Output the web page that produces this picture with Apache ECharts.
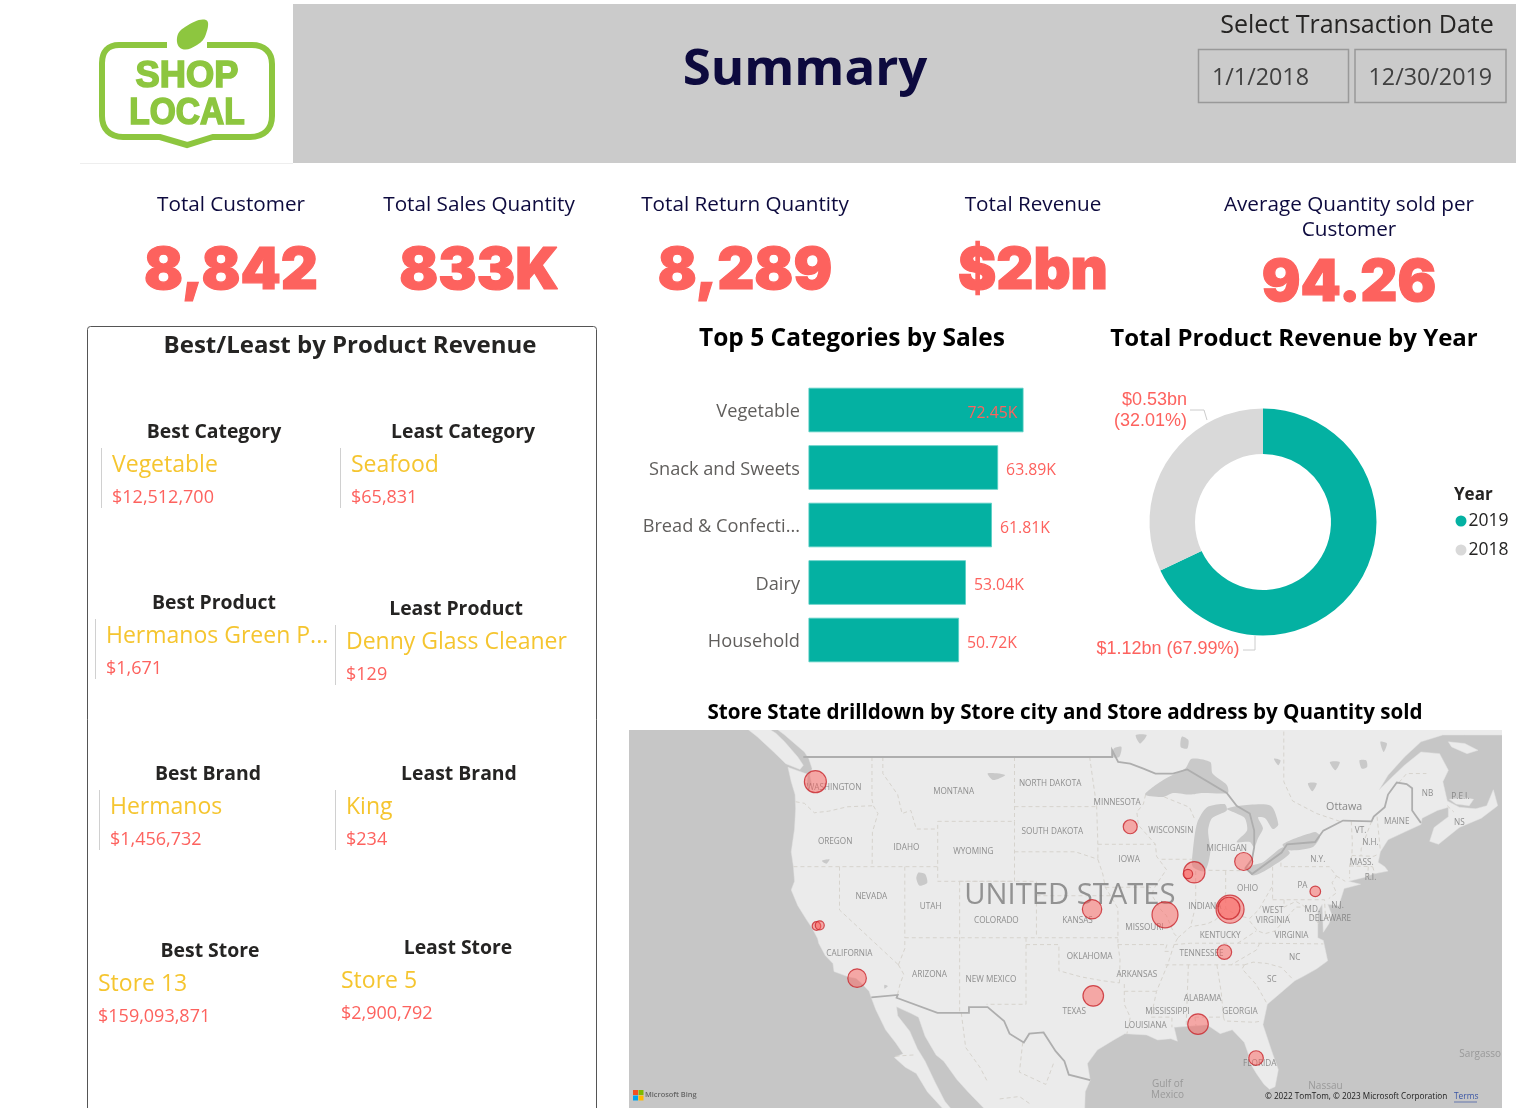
<!DOCTYPE html>
<html><head><meta charset="utf-8">
<style>html,body{margin:0;padding:0;background:#fff}#c{width:1516px;height:1108px}</style>
<script src="https://cdn.jsdelivr.net/npm/echarts@6/dist/echarts.min.js"></script>
</head><body><div id="c"></div>
<script>
// ---------- data ----------
const kpiTitles = ['Total Customer','Total Sales Quantity','Total Return Quantity','Total Revenue','Average Quantity sold per\nCustomer'];
const kpiValues = ['8,842','833K','8,289','$2bn','94.26'];
const dateRange = ['1/1/2018','12/30/2019'];
const panelTitles = ['Best Category','Least Category','Best Product','Least Product','Best Brand','Least Brand','Best Store','Least Store'];
const panelNames = ['Vegetable','Seafood','Hermanos Green P...','Denny Glass Cleaner','Hermanos','King','Store 13','Store 5'];
const panelAmounts = ['$12,512,700','$65,831','$1,671','$129','$1,456,732','$234','$159,093,871','$2,900,792'];
const categories = ['Vegetable','Snack and Sweets','Bread & Confecti...','Dairy','Household'];
const categorySales = [72.45,63.89,61.81,53.04,50.72];
const years = ['2019','2018'];
const yearRevenueBn = [1.12,0.5275];
const yearRevenueLabel = ['$1.12bn (67.99%)','$0.53bn\n(32.01%)'];
// store bubbles: lon, lat, quantity sold (estimated)
const storeLon = [-122.2,-122.1,-121.8,-118.4,-93.5,-87.66,-88.24,-83.16,-76.63,-84.4,-84.5,-96.98,-90.33,-84.92,-96.87,-87.32,-82.03];
const storeLat = [47.5,37.85,37.9,34.0,44.65,41.62,41.5,42.35,40.3,39.05,39.12,39.05,38.65,35.95,32.65,30.45,27.75];
const storeQty = [70000,10700,11700,50000,28400,66000,12800,47000,16300,113700,70000,54500,98000,30900,61500,61500,30900];
// base map geography (lon, lat)
const landOutlines = [
 [[-128.5,50.7],[-127.5,50.2],[-126,49.3],[-124.9,48.6],[-123.6,48.25],[-123.3,48.5],[-123.8,49],[-125,49.9],[-125.8,50.4],[-127,50.9]],
 [[-127.5,51.5],[-125,50.3],[-123.2,49.3],[-122.8,48.9],[-122.5,48.3],[-122.7,47.9],[-122.5,47.3],[-123,47.2],[-122.9,47.95],[-123.8,48.17],[-124.7,48.38],[-124.4,47.5],[-124.05,46.7],[-124,45.8],[-124.1,44.5],[-124.4,43],[-124.2,42],[-124.1,41],[-124.4,40.4],[-123.8,39.3],[-123,38.3],[-122.5,37.7],[-122,36.95],[-121.9,36.6],[-121.3,35.7],[-120.6,35.1],[-120.5,34.5],[-119.2,34.1],[-118.5,34],[-118.1,33.7],[-117.3,33],[-117.1,32.5],[-116.7,31.6],[-115.8,30],[-114.9,29],[-114.2,28.1],[-115,27.8],[-114,27],[-113,26.5],[-112,25],[-110,23],[-109.5,23.2],[-110.4,24.2],[-111.3,25.8],[-112.2,27.5],[-112.9,28.5],[-113.6,29.9],[-114.7,31.1],[-114.8,31.8],[-113.5,31.3],[-112.8,31],[-112.2,29.5],[-111.2,28],[-110.5,27.5],[-109.3,26],[-108.3,25],[-106.5,23.3],[-105.6,21],[-105,19],[-97,19],[-97.7,22.3],[-97.6,25],[-97.15,25.95],[-97.4,27.3],[-96.5,28.4],[-95,29.2],[-94,29.7],[-92,29.6],[-91,29.2],[-89.8,29.3],[-89.2,29.1],[-89.5,30.2],[-88,30.3],[-86.5,30.4],[-85.3,29.7],[-84.2,30],[-83.1,29],[-82.7,28],[-82.8,27.7],[-82,26.5],[-81.3,25.6],[-80.8,25.2],[-80.3,25.4],[-80,26.8],[-80.6,28.3],[-81.4,30.4],[-81,32],[-79.9,32.8],[-78.5,33.8],[-77.8,34.1],[-76.5,34.7],[-75.5,35.3],[-75.9,36.8],[-76.4,37],[-76.4,38.9],[-76,39.4],[-75.9,37.4],[-75.4,38],[-75.1,38.6],[-75.5,39.4],[-74.5,39.3],[-74,40.5],[-72.5,40.8],[-73.6,41],[-72,41.3],[-71.4,41.5],[-70.7,41.6],[-70,41.7],[-70.3,42],[-70.9,42.3],[-70.7,43],[-70,43.8],[-68.5,44.3],[-67,44.8],[-66.9,45.2],[-65.5,45.7],[-64.5,45.9],[-64.5,45.3],[-65.8,44.6],[-66.2,43.7],[-65.4,43.5],[-63.5,44.6],[-61.5,45.2],[-60,46],[-60.4,47],[-61,46],[-62,45.8],[-63.5,45.9],[-64.6,46.3],[-65,47.5],[-64.5,48.2],[-65.3,49.2],[-67,49.3],[-68.5,48.5],[-69.6,47.8],[-70.8,47],[-70,47.9],[-68.5,49],[-67,49.9],[-65,50.3],[-63,50.3],[-59.5,50.3],[-58,52],[-130,53]],
 [[-64.4,46.4],[-63,46.5],[-62.2,46.4],[-62.6,46],[-63.8,46.1]],
 [[-64.5,49.9],[-63,49.8],[-61.8,49.4],[-62.8,49.2],[-64.2,49.6]]
];
const lakeOutlines = [
 [[-92.15,46.7],[-90.5,47.6],[-88.5,48.3],[-87.9,48.9],[-86.2,48.7],[-86,48],[-84.7,47.3],[-84.6,46.8],[-86.9,46.8],[-88.05,46.7],[-89.6,46.8],[-90.5,46.55]],
 [[-87.8,43],[-87.4,44.9],[-86.5,45.9],[-84.9,46.1],[-84.7,45.7],[-86.05,45.2],[-86.4,44.4],[-86.2,43],[-86.7,41.7],[-87.8,42]],
 [[-84.7,45.8],[-83.5,46],[-80.7,46],[-80,44.8],[-80.5,44.5],[-81.2,45.2],[-81.85,45.25],[-81.4,44.55],[-81.85,43.9],[-82.2,43.3],[-82.6,43.65],[-83.8,43.65],[-82.85,44.4],[-83.05,45.2],[-83.8,45.5]],
 [[-82.85,41.95],[-81.4,42.3],[-79.6,43.3],[-78.95,42.9],[-80.7,41.95],[-82.3,41.4]],
 [[-79.6,43.5],[-76.65,44.3],[-76.2,44],[-76.9,43.3],[-79.1,43.1]],
 [[-112.8,41.6],[-112.2,41.5],[-112,40.9],[-112.7,40.7],[-113,41.2]],
 [[-88.8,50.2],[-88.2,50],[-88.3,49.5],[-88.9,49.6]],
 [[-93,50.3],[-92,50.3],[-92.6,49.8]],
 [[-95,49.5],[-94.3,49.6],[-94.5,49],[-95.1,49]],
 [[-72.6,48.8],[-72,48.8],[-71.9,48.4],[-72.4,48.3]],
 [[-75.3,48.7],[-74.4,48.7],[-74.8,48.2]],
 [[-77.3,47.4],[-76.5,47.4],[-76.9,46.9]],
 [[-80.4,48.9],[-79.8,48.8],[-80,48.5]],
 [[-70.7,49.9],[-70.1,49.8],[-70.4,49.3]],
 [[-106.5,48],[-105.5,48],[-104.9,47.9],[-106,47.6]],
 [[-121.2,42.2],[-120.9,42.5],[-121.6,42.4]],
 [[-115.9,33.5],[-115.6,33.4],[-115.9,33.2]]
];
const countryBorders = [
 [[-123.3,49],[-95.15,49],[-95.15,49.4],[-94.6,48.7],[-93.5,48.6],[-92.3,48.3],[-91.2,48],[-89.6,48],[-88.3,48.25],[-84.7,46.8],[-83.8,46],[-82.6,45.5],[-82.2,44.4],[-82.2,43.3],[-82.4,42.5],[-83,41.9],[-82.4,41.5],[-79.7,42.95],[-79.2,43.5],[-76.65,43.65],[-75.9,44.4],[-74.1,45.05],[-71.5,45],[-71.3,45.3],[-70.3,45.9],[-70,46.7],[-69.2,47.45],[-68.3,47.35],[-67.8,47.1],[-67.8,45.7],[-67.4,45.3],[-67,44.9]],
 [[-117.1,32.53],[-114.7,32.72],[-114.8,32.5],[-111.07,31.33],[-108.2,31.33],[-108.2,31.78],[-106.5,31.78],[-105,30.7],[-104.5,29.7],[-103.2,29],[-102.7,29.7],[-101.4,29.8],[-100.3,28.3],[-99.5,27.5],[-99.1,26.4],[-97.15,25.95]]
];
const stateBorders = [
 [[-124,46.25],[-123.2,46.15],[-122.3,45.55],[-121,45.65],[-119.3,45.93],[-116.92,46]],
 [[-117.04,49],[-117.04,46.4],[-116.92,46],[-116.5,45.5],[-117,44.3],[-117.03,42]],
 [[-124.2,42],[-111.05,42]],
 [[-116.05,49],[-116.05,48],[-114.7,46.7],[-114.3,45.5],[-113.5,45.7],[-113,44.5],[-111.05,44.5]],
 [[-111.05,45],[-104.05,45],[-104.05,41],[-111.05,41],[-111.05,45]],
 [[-104.05,49],[-104.05,45]],
 [[-120,42],[-120,39],[-114.63,35]],
 [[-114.63,35],[-114.05,36.2],[-114.05,37]],
 [[-114.05,42],[-114.05,37]],
 [[-114.05,37],[-94.62,37]],
 [[-109.05,41],[-109.05,31.33]],
 [[-109.05,41],[-102.05,41],[-102.05,37]],
 [[-103,37],[-103,32],[-106.6,32]],
 [[-114.63,35],[-114.15,34.3],[-114.5,33.5],[-114.72,32.72]],
 [[-103,36.5],[-100,36.5],[-100,34.56],[-98,34.1],[-96,33.8],[-94.48,33.64]],
 [[-94.04,33.55],[-94.04,32],[-93.5,31],[-93.8,29.7]],
 [[-104.05,45.94],[-96.56,45.94]],
 [[-104.05,43],[-98.5,43],[-96.45,42.5]],
 [[-102.05,40],[-95.3,40]],
 [[-97.2,49],[-96.56,45.94],[-96.45,43.5],[-96.45,42.5]],
 [[-96.45,43.5],[-91.2,43.5]],
 [[-95.77,40.58],[-91.7,40.6],[-91.4,40.4]],
 [[-96.45,42.5],[-96,41.5],[-95.77,40.58],[-95.3,40],[-94.62,39.1],[-94.62,36.5]],
 [[-94.62,36.5],[-90.15,36.5],[-90.35,36],[-89.7,36]],
 [[-94.62,36.5],[-94.43,35.4],[-94.48,33.64]],
 [[-94.04,33],[-91.15,33]],
 [[-92.1,46.7],[-92.3,46.1],[-92.9,45.6],[-92.75,44.75],[-91.2,43.5],[-91.1,42.7],[-90.2,41.8],[-91.1,40.8],[-91.4,40.4],[-91.5,40],[-90.7,39],[-90.2,38.6],[-89.5,37.3],[-89.15,37],[-89.5,36.5],[-90.1,35],[-91.1,33],[-91.6,31],[-89.7,31],[-89.7,30.2]],
 [[-90.64,42.5],[-87.8,42.5]],
 [[-90.4,46.55],[-88.1,45.9],[-87.6,45.1]],
 [[-87.53,41.7],[-87.53,39.3],[-88,37.8]],
 [[-89.15,37],[-88,37.8],[-86.5,38],[-85.7,38.3],[-84.8,39.1],[-83.7,38.6],[-82.6,38.4],[-81.8,39],[-80.6,40.6]],
 [[-84.8,41.7],[-84.8,39.1]],
 [[-87,41.76],[-83.45,41.73]],
 [[-80.52,42],[-80.52,39.72]],
 [[-79.76,42.27],[-79.76,42],[-75.35,42],[-74.7,41.36],[-75.1,40.9],[-74.7,40.2],[-75.4,39.8]],
 [[-74.7,41.36],[-73.9,41]],
 [[-80.52,39.72],[-75.79,39.72],[-75.7,38.46],[-75.05,38.46]],
 [[-79.48,39.72],[-79.48,39.2],[-78.4,39.6],[-77.7,39.3],[-77.1,38.8],[-76.3,38]],
 [[-82.6,38.2],[-81.9,37.5],[-81.2,37.3],[-80.3,37.5],[-79.3,38.4],[-78.4,39.2],[-77.8,39.2]],
 [[-89.5,36.5],[-88,36.6],[-83.7,36.6],[-81.7,36.6],[-75.9,36.55]],
 [[-83.7,36.6],[-82,37.5]],
 [[-81.7,36.6],[-82,36.1],[-84.3,35]],
 [[-90.3,35],[-83.1,35]],
 [[-83.1,35],[-82.3,35.2],[-81,35.1],[-79.7,34.8],[-78.6,33.85]],
 [[-83.1,35],[-83.3,34.7],[-82,33.5],[-81,32]],
 [[-85.6,35],[-85.2,32.9],[-85,31]],
 [[-88.2,35],[-88.4,30.3]],
 [[-87.6,31],[-85,31],[-84.9,30.7],[-82.2,30.6],[-81.5,30.7]],
 [[-87.6,31],[-87.5,30.3]],
 [[-73.35,45],[-73.25,43.6],[-73.3,42.75],[-73.5,42.05],[-73.5,41.2]],
 [[-71.5,45],[-72.45,43.2],[-72.46,42.73]],
 [[-73.3,42.75],[-71.3,42.7],[-70.8,42.87]],
 [[-73.5,42.05],[-71.4,42]],
 [[-71.8,42],[-71.85,41.3]],
 [[-71,45.3],[-70.7,43.1]],
 [[-71.4,42],[-71.2,41.5]],
 [[-79.5,50.5],[-79.5,47.5],[-78.7,46.3],[-76.5,45.5],[-74.4,45]],
 [[-69,47.45],[-68.3,48],[-66.5,48]],
 [[-64.6,46],[-64,45.6]],
 [[-108.9,31.33],[-108.5,28.6],[-107.2,27],[-106.5,25.8]],
 [[-103.3,29],[-103.6,26.6],[-101.2,25.6],[-100.5,27.3]],
 [[-105.4,24.4],[-103.6,24.6],[-102.5,23.9]],
 [[-114.9,27.9],[-113.2,28]]
];
const placeNames = ['WASHINGTON','MONTANA','NORTH DAKOTA','MINNESOTA','SOUTH DAKOTA','WISCONSIN','OREGON','IDAHO','WYOMING','MICHIGAN','IOWA','N.Y.','MASS.','VT.','N.H.','MAINE','NB','P.E.I.','NS','NEVADA','UTAH','OHIO','PA','INDIANA','COLORADO','KANSAS','MISSOURI','MD.','N.J.','WEST\nVIRGINIA','DELAWARE','KENTUCKY','VIRGINIA','CALIFORNIA','TENNESSEE','OKLAHOMA','NC','ARIZONA','NEW MEXICO','ARKANSAS','SC','TEXAS','ALABAMA','MISSISSIPPI','GEORGIA','LOUISIANA','FLORIDA','R.I.'];
const placeLon = [-120.5,-109.6,-100.8,-94.7,-100.6,-89.8,-120.4,-113.9,-107.8,-84.7,-93.6,-76.4,-72.4,-72.5,-71.6,-69.2,-66.4,-63.4,-63.5,-117.1,-111.7,-82.8,-77.8,-86.7,-105.7,-98.3,-92.2,-76.9,-74.6,-80.5,-75.3,-85.3,-78.8,-119.1,-87,-97.2,-78.5,-111.8,-106.2,-92.9,-80.6,-98.6,-86.9,-90.1,-83.5,-92.1,-81.7,-71.6];
const placeLat = [47.1,46.9,47.4,46.2,44.3,44.4,43.7,43.3,43,43.2,42.5,42.5,42.3,44.4,43.6,45,46.75,46.6,44.9,39.9,39.2,40.5,40.7,39.2,38.2,38.2,37.7,39,39.3,38.6,38.4,37.15,37.15,35.8,35.8,35.6,35.5,34.3,33.9,34.3,33.9,31.4,32.4,31.4,31.4,30.3,27.3,41.25];
const bigPlaces = ['UNITED STATES','Ottawa','Gulf of\nMexico','Nassau','Sargasso'];
const bigLon = [-99,-74,-90.1,-75.7,-61.6];
const bigLat = [40.03,45.9,25.2,25.45,28.1];

// ---------- style ----------
const UI = '"Open Sans","Noto Sans",sans-serif';
const CORAL = '#fd625e', TEAL = '#04b1a2', YELLOW = '#f5c52f', GREEN = '#8dc63f', INK = '#252423', NAVY = '#0d0a3e';
const merc = lat => Math.log(Math.tan(Math.PI/4 + lat*Math.PI/360));
const txt = (text,x,y,size,fill,opts={}) => ({type:'text',silent:true,z:opts.z||5,style:{text,x,y:y+size*.07,fill,
  font:`${opts.weight||'normal'} ${size}px ${opts.family||UI}`,align:opts.align||'left',verticalAlign:'middle',lineHeight:opts.lineHeight||size*1.25,
  stroke:opts.stroke||null,lineWidth:opts.stroke?opts.strokeWidth:0}});

const g = [];
// header band + logo
g.push({type:'rect',silent:true,shape:{x:293,y:4,width:1223,height:159},style:{fill:'#cbcbcb'}});
g.push({type:'line',silent:true,shape:{x1:80,y1:163.5,x2:293,y2:163.5},style:{stroke:'#eeeeee',lineWidth:1}});
const logoStroke = {fill:'none',stroke:GREEN,lineWidth:6};
g.push({type:'polyline',silent:true,shape:{points:[[167,45],[119,45]]},style:logoStroke});
g.push({type:'bezierCurve',silent:true,shape:{x1:119,y1:45,cpx1:108,cpy1:45,cpx2:102,cpy2:52,x2:102,y2:63},style:logoStroke});
g.push({type:'polyline',silent:true,shape:{points:[[102,63],[102,116]]},style:logoStroke});
g.push({type:'bezierCurve',silent:true,shape:{x1:102,y1:116,cpx1:102,cpy1:129,cpx2:110,cpy2:137,x2:123,y2:137},style:logoStroke});
g.push({type:'polyline',silent:true,shape:{points:[[123,137],[160,137],[187,145],[213,137],[250,137]]},style:logoStroke});
g.push({type:'bezierCurve',silent:true,shape:{x1:250,y1:137,cpx1:264,cpy1:137,cpx2:272,cpy2:129,x2:272,y2:116},style:logoStroke});
g.push({type:'polyline',silent:true,shape:{points:[[272,116],[272,64]]},style:logoStroke});
g.push({type:'bezierCurve',silent:true,shape:{x1:272,y1:64,cpx1:272,cpy1:52,cpx2:264,cpy2:45,x2:252,y2:45},style:logoStroke});
g.push({type:'polyline',silent:true,shape:{points:[[252,45],[207,45]]},style:logoStroke});
g.push({type:'polygon',silent:true,shape:{points:[[182,49],[177,38],[185,27],[206,20],[206,34],[197,45]],smooth:.45},style:{fill:GREEN}});
g.push({type:'text',silent:true,x:187,y:77,scaleX:.98,style:{text:'SHOP',x:0,y:0,align:'center',verticalAlign:'middle',font:'bold 37px "Liberation Sans"',fill:GREEN,stroke:GREEN,lineWidth:1.6}});
g.push({type:'text',silent:true,x:187,y:114,scaleX:.93,style:{text:'LOCAL',x:0,y:0,align:'center',verticalAlign:'middle',font:'bold 36px "Liberation Sans"',fill:GREEN,stroke:GREEN,lineWidth:1.6}});
g.push(txt('Summary',805,67,51,NAVY,{align:'center',weight:'bold'}));
g.push(txt('Select Transaction Date',1357,24,25,INK,{align:'center'}));
[[1198,150],[1354.5,151]].forEach((b,i)=>{
  g.push({type:'rect',silent:true,shape:{x:b[0]+.5,y:49.5,width:b[1],height:53},style:{fill:'none',stroke:'#999',lineWidth:1.5}});
  g.push(txt(dateRange[i],b[0]+14,77,23.3,'#404040'));
});
// KPIs
const kpiTx = [231,479,745,1033,1349], kpiTy = [204,204,204,204,216], kpiVy = [268,268,268,268,280];
kpiTitles.forEach((t,i)=>{
  g.push(txt(t,kpiTx[i],kpiTy[i],20.7,NAVY,{align:'center',lineHeight:25}));
  g.push(txt(kpiValues[i],kpiTx[i],kpiVy[i],57.5,CORAL,{align:'center',weight:'900',family:'Inter,sans-serif',stroke:CORAL,strokeWidth:1.2}));
});
// left panel
g.push({type:'rect',silent:true,shape:{x:87.5,y:326.5,width:509,height:800,r:3},style:{fill:'none',stroke:'#555',lineWidth:1}});
g.push(txt('Best/Least by Product Revenue',350,344,24,INK,{align:'center',weight:'bold'}));
const pTx=[214,463,214,456,208,459,210,458], pTy=[431,431,602,608,773,773,950,947];
const pVx=[112,351,106,346,110,346,98,341], pVy=[464,464,635,641,806,806,983,980];
panelTitles.forEach((t,i)=>{
  g.push(txt(t,pTx[i],pTy[i],19.4,INK,{align:'center',weight:'bold'}));
  g.push(txt(panelNames[i],pVx[i],pVy[i],23,YELLOW));
  g.push(txt(panelAmounts[i],pVx[i],pVy[i]+33,18,CORAL));
  if(i<6) g.push({type:'line',silent:true,shape:{x1:pVx[i]-10.5,y1:pVy[i]-16,x2:pVx[i]-10.5,y2:pVy[i]+44},style:{stroke:'#d0d0d0',lineWidth:1}});
});
// chart titles
g.push(txt('Top 5 Categories by Sales',852,337,24.5,'#000',{align:'center',weight:'bold'}));
g.push(txt('Total Product Revenue by Year',1294,337,24,'#000',{align:'center',weight:'bold'}));
g.push(txt('Store State drilldown by Store city and Store address by Quantity sold',1065,712,20.6,'#000',{align:'center',weight:'bold'}));
g.push(txt('Year',1454,494,17,INK,{weight:'bold'}));
// map attribution
[['#f25022',633,1090],['#7fba00',638.5,1090],['#00a4ef',633,1095.5],['#ffb900',638.5,1095.5]].forEach(s=>
  g.push({type:'rect',silent:true,z:6,shape:{x:s[1],y:s[2],width:5,height:5},style:{fill:s[0]}}));
g.push(txt('Microsoft Bing',645,1094.5,7.4,'#666',{z:6,weight:'600'}));
g.push(txt('© 2022 TomTom, © 2023 Microsoft Corporation',1265,1096.5,8.2,'#222',{z:6}));
g.push(txt('Terms',1454,1096.5,8.4,'#3a55a5',{z:6}));
g.push({type:'line',silent:true,z:6,shape:{x1:1454,y1:1102,x2:1477,y2:1102},style:{stroke:'#3a55a5',lineWidth:.7}});

// custom geometry helpers
const geomSeries = (list,make,z) => ({type:'custom',coordinateSystem:'cartesian2d',xAxisIndex:1,yAxisIndex:1,clip:true,silent:true,z,
  data:list.map((_,i)=>[i]),
  renderItem:(p,api)=>make(list[api.value(0)].map(q=>api.coord([q[0],merc(q[1])])))});

const option = {
  animation:false,
  backgroundColor:'#fff',
  graphic:{elements:g},
  grid:[
    {left:808.5,top:381.25,width:237.4,height:287.5,containLabel:false},
    {left:629,top:730,width:873,height:378,show:true,backgroundColor:'#c6c6c6',borderWidth:0,z:0}
  ],
  xAxis:[
    {type:'value',gridIndex:0,min:0,max:80,show:false},
    {type:'value',gridIndex:1,min:-139.19,max:-59.61,show:false}
  ],
  yAxis:[
    {type:'category',gridIndex:0,inverse:true,data:categories,axisLine:{show:false},axisTick:{show:false},
     axisLabel:{margin:8.5,formatter:v=>'{a|'+v+'}',rich:{a:{fontSize:18.2,fontFamily:UI,color:'#605e5c',padding:[4,0,0,0]}}}},
    {type:'value',gridIndex:1,min:merc(49)-351/628,max:merc(49)+27/628,show:false}
  ],
  legend:{orient:'vertical',left:1450.5,top:507,data:years,icon:'circle',itemWidth:11,itemHeight:11,itemGap:11,selectedMode:false,
    textStyle:{fontSize:17.5,fontFamily:UI,color:INK,padding:[0,0,0,-3]}},
  series:[
    {type:'bar',xAxisIndex:0,yAxisIndex:0,barWidth:44.5,
     data:categorySales.map((v,i)=>i===0?{value:v,label:{position:'insideRight',distance:6,offset:[0,3]}}:v),
     itemStyle:{color:TEAL,borderColor:'#58cec3',borderWidth:.8},
     label:{show:true,position:'right',distance:8,offset:[0,3],fontSize:15.8,fontFamily:UI,color:CORAL,formatter:p=>p.value.toFixed(2)+'K'}},
    {type:'pie',radius:[68,113.5],center:[1263,522],startAngle:90,clockwise:true,avoidLabelOverlap:false,silent:true,
     data:years.map((y,i)=>({name:y,value:yearRevenueBn[i],itemStyle:{color:i?'#d9d9d9':TEAL}})),
     label:{show:true,position:'outside',color:CORAL,fontSize:18,fontFamily:'"Liberation Sans",Arial',lineHeight:21,formatter:p=>yearRevenueLabel[p.dataIndex]},
     labelLine:{show:true,length:10,length2:10,lineStyle:{color:'#cccccc',width:1}},
     labelLayout:p=>p.dataIndex===0
       ?{x:1168,y:649,align:'center',verticalAlign:'middle',labelLinePoints:[[1243,650],[1255,650],[1255,636]]}
       :{x:1187,y:411,align:'right',verticalAlign:'middle',labelLinePoints:[[1190,410],[1204,410],[1207,420]]}},
    geomSeries(landOutlines,pts=>({type:'polygon',shape:{points:pts},style:{fill:'#ebebeb',stroke:'#e2e2e2',lineWidth:.5}}),1),
    geomSeries(lakeOutlines,pts=>({type:'polygon',shape:{points:pts,smooth:.25},style:{fill:'#c9c9c9'}}),2),
    geomSeries(stateBorders,pts=>({type:'polyline',shape:{points:pts},style:{fill:'none',stroke:'#d6d3cd',lineWidth:1,lineDash:[4,3]}}),2),
    geomSeries(countryBorders,pts=>({type:'polyline',shape:{points:pts},style:{fill:'none',stroke:'#aeaeae',lineWidth:1.8}}),3),
    {type:'scatter',xAxisIndex:1,yAxisIndex:1,silent:true,z:4,symbolSize:0,
     data:placeNames.map((n,i)=>({name:n,value:[placeLon[i],merc(placeLat[i])]})),
     label:{show:true,position:'inside',formatter:p=>p.name,fontSize:8.2,lineHeight:10,fontFamily:UI,color:'#777777'},labelLayout:{hideOverlap:false}},
    {type:'scatter',xAxisIndex:1,yAxisIndex:1,silent:true,z:4,symbolSize:0,
     data:bigPlaces.map((n,i)=>({name:n,value:[bigLon[i],merc(bigLat[i])],
       label:{fontSize:i===0?29.2:i===1?10.7:10,lineHeight:i===0?36:11,color:i===0?'#7c7c7c':i===1?'#707070':'#8e8e8e'}})),
     label:{show:true,position:'inside',formatter:p=>p.name,fontFamily:UI}},
    {type:'scatter',xAxisIndex:1,yAxisIndex:1,silent:true,z:5,
     data:storeQty.map((q,i)=>[storeLon[i],merc(storeLat[i]),q]),
     symbolSize:v=>2*Math.sqrt(v[2]/580),
     itemStyle:{color:'rgba(253,98,94,0.62)',borderColor:'#c8262c',borderWidth:1.2}}
  ]
};
const chart = echarts.init(document.getElementById('c'),null,{renderer:'canvas',width:1516,height:1108});
chart.setOption(option);
</script></body></html>
